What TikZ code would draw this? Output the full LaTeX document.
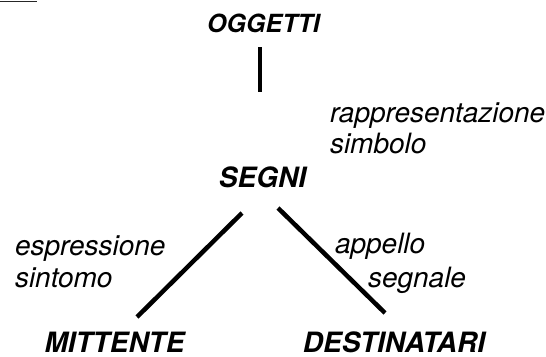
\documentclass[tikz,border=0pt]{standalone}
\usepackage{fontspec}
\setmainfont{TeX Gyre Heros}
\begin{document}
\begin{tikzpicture}[x=1pt,y=-1pt,
  every node/.style={inner sep=0pt, outer sep=0pt},
  term/.style={font=\fontsize{28}{31}\selectfont\bfseries\itshape, anchor=base},
  topterm/.style={font=\fontsize{25}{28}\selectfont\bfseries\itshape, anchor=base},
  lbl/.style={font=\fontsize{28}{31}\selectfont\itshape, anchor=base west},
  link/.style={line width=4.5pt, line cap=butt}]
\useasboundingbox (0,0) rectangle (546,356);
% top-left thin rule
\coordinate (r1) at (0,1.2);
\coordinate (r2) at (37,1.2);
\draw[line width=1.4pt, black!85] (r1) -- (r2);
% terms
\node[topterm] (ogg) at (263.5,32) {OGGETTI};
\node[term] (seg) at (262.5,187) {SEGNI};
\node[term] (mit) at (114.5,352) {MITTENTE};
\node[term] (des) at (394,352) {DESTINATARI};
% labels
\node[lbl] (rap) at (330,122) {rappresentazione};
\node[lbl] (sim) at (330,153) {simbolo};
\node[lbl] (esp) at (15,255) {espressione};
\node[lbl] (sin) at (15,287) {sintomo};
\node[lbl] (app) at (335,253) {appello};
\node[lbl] (sgn) at (368,287) {segnale};
% connectors
\coordinate (v1) at (260,47);
\coordinate (v2) at (260,92);
\coordinate (l1) at (242,213);
\coordinate (l2) at (137,317);
\coordinate (d1) at (278,208);
\coordinate (d2) at (385,313);
\draw[link] (v1) -- (v2);
\draw[link] (l1) -- (l2);
\draw[link] (d1) -- (d2);
\end{tikzpicture}
\end{document}
